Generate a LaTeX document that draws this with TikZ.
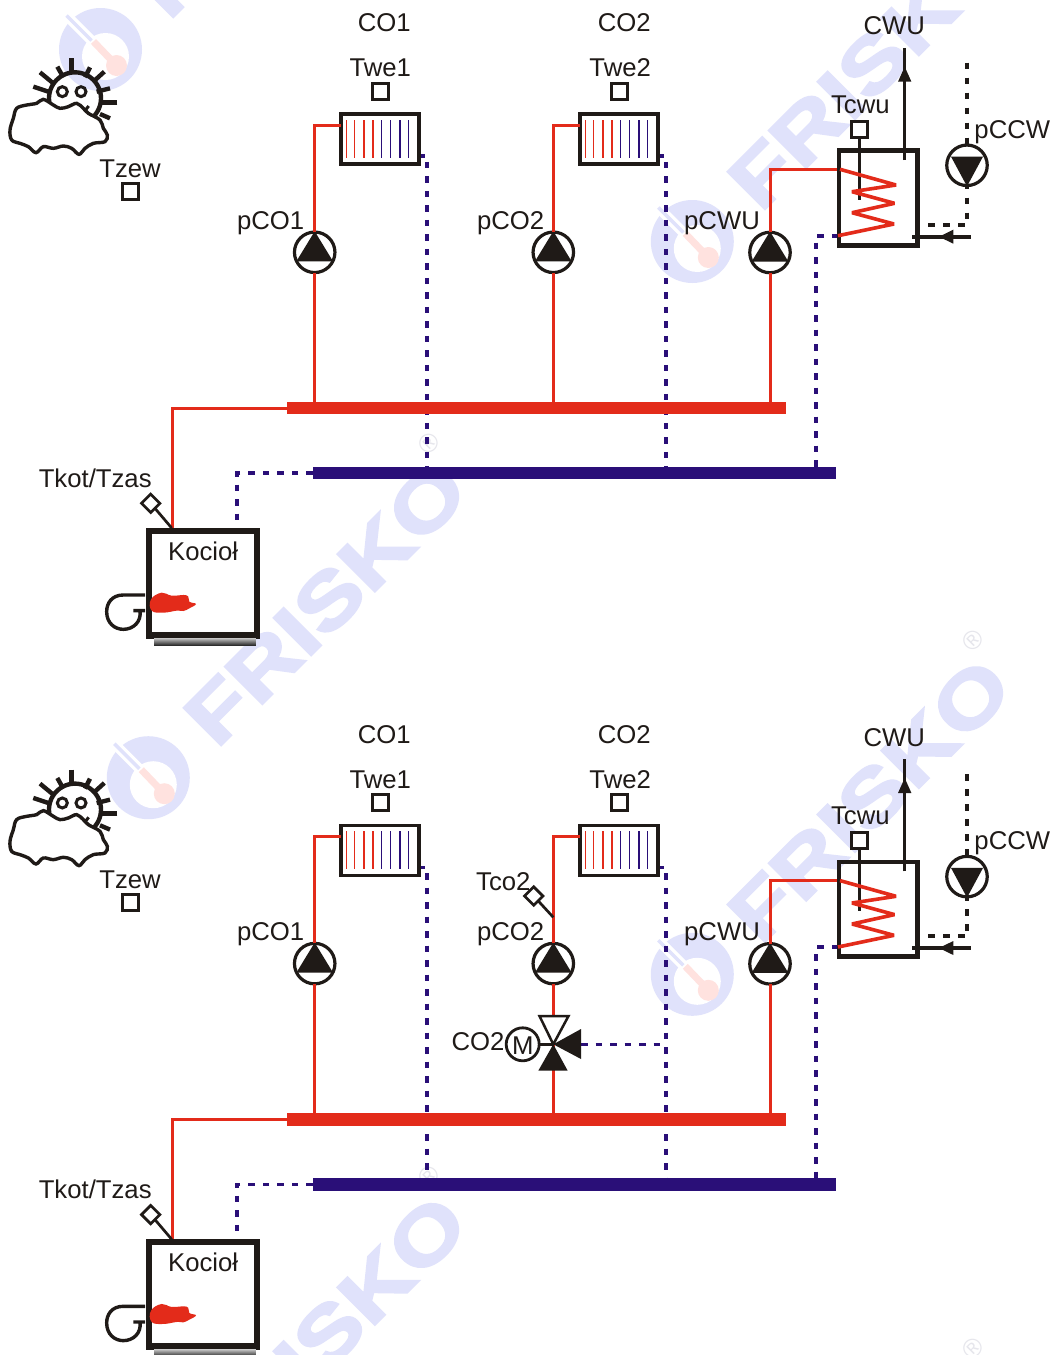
\documentclass[tikz,border=0pt]{standalone}
\usepackage{fontspec}
\setmainfont{Liberation Sans}
\newfontfamily\wmfont[BoldFeatures={FakeBold=2.6}]{Liberation Sans}
\definecolor{ink}{HTML}{1F1A17}
\definecolor{hot}{HTML}{E32B1A}
\definecolor{cold}{HTML}{2A0F78}
\definecolor{wmlav}{HTML}{E0E2FB}
\definecolor{wmpink}{HTML}{FFE2DF}
\definecolor{wmgrey}{HTML}{E6E6EC}
\tikzset{
  lbl/.style={font=\fontsize{25.7}{27}\selectfont,inner sep=0pt,outer sep=0pt,text=ink,anchor=base},
  hotpipe/.style={draw=hot,line width=3pt},
  colddash/.style={draw=cold,line width=3.6pt,dash pattern=on 6.5pt off 8pt},
  blackdash/.style={draw=ink,line width=3.8pt,dash pattern=on 6.5pt off 8.5pt},
  bus/.style={inner sep=0pt,outer sep=0pt,minimum height=12.6pt},
  sqsensor/.style={draw=ink,line width=3pt,fill=white,minimum size=16pt,inner sep=0pt,outer sep=0pt},
  dsensor/.style={draw=ink,line width=2.7pt,fill=white,rotate=45,minimum size=13pt,inner sep=0pt,outer sep=0pt},
  pumpc/.style={circle,draw=ink,line width=3.2pt,fill=white,minimum size=40.5pt,inner sep=0pt,outer sep=0pt},
  radbox/.style={draw=ink,line width=3.6pt,fill=white,minimum width=78pt,minimum height=50pt,inner sep=0pt,outer sep=0pt},
  wire/.style={draw=ink,line width=2.7pt},
}
% up-pointing pump: name, x, y
\newcommand\pumpup[3]{%
  \node[pumpc] (#1) at (#2,#3) {};
  \fill[ink] (#2,#3-21) -- (#2+18.3,#3+9) -- (#2-18.3,#3+9) -- cycle;}
% radiator: name, centre x
\newcommand\radiator[2]{%
  \node[radbox] (#1) at (#2,139.2) {};
  \foreach \d in {-33.7,-25.3,-16,-7}{\draw[hot,line width=1.5pt] (#2+\d,120) -- (#2+\d,157.7);}
  \foreach \d in {1.7,10.7,20,28.3}{\draw[cold,line width=1.5pt] (#2+\d,120) -- (#2+\d,157.7);}}
% watermark: logo centre
\newcommand\wlogo[3]{%
  \begin{scope}[shift={(#1,#2)}]
    \fill[wmlav] (0,0) circle (41.5);
    \fill[white] (5,7) circle (23.5);
    \draw[white,line width=10pt] (-34,-34) -- (6,6);
    \draw[wmlav,line width=3.5pt] (-34,-34) -- (-9,-9);
    \draw[wmpink,line width=7pt] (-7,-8) -- (16,16);
    \fill[wmpink] (16,16) circle (10.5);
    \node[rotate=45,anchor=base west,inner sep=0pt,outer sep=0pt,text=wmlav] (#3) at (68.4,-28)
      {\scalebox{1.24}[1]{\fontsize{77}{77}\wmfont\bfseries FRISKO}};
  \end{scope}}
\newcommand\wreg[3]{\node[rotate=45,inner sep=0pt,text=wmgrey,font=\fontsize{26}{26}\selectfont] (#3) at (#1,#2) {®};}

\newcommand\scheme[3]{%
\begin{scope}[yshift=#1pt,name prefix=#2-]
  % weather symbol
  \begin{scope}[shift={(0,40)},scale=0.33333]
    \draw[ink,line width=4.4pt,line cap=round] plot[domain=-42:190,samples=40] ({225+78*cos(\x)},{175-78*sin(\x)});
    \foreach \a/\b/\c/\e in {120/97/160/130,172/80/190/112,215/55/215/100,270/82/255/112,313/95/280/125,330/145/290/155,352/187/305/187,330/235/300/222,100/140/145/155}
      {\draw[ink,line width=4.4pt] (\a,\b) -- (\c,\e);}
    \draw[ink,line width=3pt] (187,155) circle (15) (243,155) circle (15);
    \draw[ink,line width=3.4pt,fill=white] plot[smooth cycle,tension=0.6] coordinates {(30,270) (40,235) (50,205) (80,195) (110,190) (130,178) (160,195) (180,205) (205,200) (230,190) (250,205) (265,220) (300,240) (310,265) (322,285) (315,305) (280,310) (255,325) (237,343) (215,325) (190,318) (160,325) (130,320) (108,338) (85,320) (60,310) (35,300)};
    \draw[ink,line width=3pt] (255,212) -- (266,198);
  \end{scope}
  \node[lbl] (tzewl) at (130,177.3) {Tzew};
  \node[sqsensor] (tzew) at (130.5,191) {};

  \node[lbl] (co1l) at (384.3,31.8) {CO1};
  \node[lbl] (co2l) at (624.2,31.8) {CO2};
  \node[lbl] (twe1l) at (380.3,76.8) {Twe1};
  \node[lbl] (twe2l) at (620.2,76.8) {Twe2};
  \node[sqsensor] (twe1) at (380,91.3) {};
  \node[sqsensor] (twe2) at (619,91.3) {};
  \node[lbl] (pco1l) at (270.7,229.3) {pCO1};
  \node[lbl] (pco2l) at (510.7,229.3) {pCO2};
  \node[lbl] (pcwul) at (722,229.3) {pCWU};
  \node[lbl] (cwul) at (894.3,34.8) {CWU};
  \node[lbl] (tcwul) at (860.3,113.5) {Tcwu};
  \node[lbl] (pccwl) at (1012.3,138) {pCCW};
  \node[lbl] (tkotl) at (95.2,487.3) {Tkot/Tzas};

  % named attachment points
  \coordinate (r1in) at (341,125);
  \coordinate (r2in) at (580,125);
  \coordinate (r1out) at (418,156);
  \coordinate (r1dn) at (426.7,156);
  \coordinate (r2out) at (657,156);
  \coordinate (r2dn) at (665.7,156);
  \coordinate (boilin) at (172.3,529);
  \coordinate (boilout) at (237,530);
  \coordinate (coilin) at (840,169.3);
  \coordinate (coilout) at (838,235.7);
  \coordinate (tankret) at (816,235.7);
  \coordinate (ccwtop) at (967.3,62.7);
  \coordinate (ccwbend) at (967.3,225);
  \coordinate (ccwend) at (916.7,225);
  \coordinate (cwutop) at (904.7,48);
  \coordinate (cwubot) at (904.7,160);
  \coordinate (cwin) at (970.7,236.7);
  \coordinate (cwend) at (911.7,236.7);
  \coordinate (tcwuend) at (859.7,200);
  \coordinate (kotend) at (171.7,528);

  % pipes, return lines first so that the buses lie over them
  \node[bus,minimum width=499pt] (redbus) at (536.5,408) {};
  \node[bus,minimum width=523pt] (bluebus) at (574,473) {};
  \draw[colddash] (r1out) -- (r1dn) -- (r1dn |- bluebus.north);
  \draw[colddash] (r2out) -- (r2dn) -- (r2dn |- bluebus.north);
  \draw[colddash] (coilout) -- (tankret) -- (tankret |- bluebus.north);
  \draw[colddash] (bluebus.west) -| (boilout);
  \fill[hot] (redbus.south west) rectangle (redbus.north east);
  \fill[cold] (bluebus.south west) rectangle (bluebus.north east);

  \radiator{rad1}{380}
  \radiator{rad2}{619}
  \pumpup{pco1}{314.7}{252.3}
  \pumpup{pco2}{553.3}{252.3}
  \pumpup{pcwu}{770}{252.5}
  \draw[hotpipe] (pco1.north) |- (r1in);
  \draw[hotpipe] (pco2.north) |- (r2in);
  \draw[hotpipe] (pco1.south) -- (pco1.south |- redbus.north);
  \draw[hotpipe] (pcwu.south) -- (pcwu.south |- redbus.north);
  \draw[hotpipe] (pcwu.north) |- (coilin);
  \draw[hotpipe] (redbus.west) -| (boilin);
  #3
  % storage tank
  \node[draw=ink,line width=4.6pt,minimum width=78.3pt,minimum height=94.6pt,inner sep=0pt,outer sep=0pt] (tank) at (878.2,198) {};
  \draw[wire,line width=3pt] (cwubot) -- (cwutop);
  \fill[ink] (904.7,66.7) -- (911.4,81.7) -- (898,81.7) -- cycle;
  \node[sqsensor] (tcwu) at (859.7,129) {};
  \draw[wire,line width=3pt] (tcwu) -- (tcwuend);
  \draw[hot,line width=3.6pt,line join=bevel] (coilin) -- (896,185) -- (852,191.7) -- (894.5,203.3) -- (852,212.7) -- (894,224) -- (coilout);
  % circulation pump
  \draw[blackdash] (ccwtop) -- (ccwbend) -- (ccwend);
  \node[pumpc] (pccw) at (967,165.3) {};
  \fill[ink] (967,186.3) -- (951,156.6) -- (983,156.6) -- cycle;
  % cold water inlet
  \draw[ink,line width=4.4pt] (cwin) -- (cwend);
  \fill[ink] (939,236.7) -- (953.3,229.7) -- (953.3,243.7) -- cycle;
  % boiler
  \node[draw=ink,line width=6.4pt,minimum width=108.3pt,minimum height=104.6pt,inner sep=0pt,outer sep=0pt] (kociol) at (202.9,583) {};
  \node[lbl] (kociol-l) at (203.2,560) {Kocioł};
  \node[inner sep=0pt,outer sep=0pt,minimum width=101.7pt,minimum height=7pt,top color=black!25,bottom color=black!85] (ash) at (204.9,641.8) {};
  \begin{scope}[shift={(80,460)},scale=0.33333]
    \draw[ink,line width=3.4pt] (195,405) -- (130,405) .. controls (95,405) and (80,430) .. (80,455) .. controls (80,490) and (105,508) .. (130,508) .. controls (160,508) and (185,485) .. (180,452) (160,452) -- (195,452);
    \fill[hot] plot[smooth cycle,tension=0.7] coordinates {(213,418) (245,398) (275,407) (320,406) (328,425) (348,432) (328,445) (310,453) (290,452) (250,458) (215,452)};
  \end{scope}
  \node[dsensor] (tkot) at (150.7,503.3) {};
  \draw[wire] (tkot) -- (kotend);
\end{scope}}

\begin{document}
\begin{tikzpicture}[x=1pt,y=-1pt]
  \useasboundingbox (0,0) rectangle (1053,1355);
  \clip (0,0) rectangle (1053,1355);
  \fill[white] (0,0) rectangle (1053,1355);
  \wlogo{100.5}{49.5}{wma}
  \wlogo{692.3}{241.5}{wmb}
  \wlogo{148.3}{777.7}{wmc}
  \wlogo{692.3}{974.3}{wmd}
  \wlogo{148.3}{1511}{wme}
  \wreg{429}{443.3}{wra}
  \wreg{972.7}{640}{wrb}
  \wreg{429}{1176.7}{wrc}
  \wreg{972.7}{1348}{wrd}

  \scheme{0}{a}{%
    \draw[hotpipe] (pco2.south) -- (pco2.south |- redbus.north);}
  \scheme{-711.3}{b}{%
    \coordinate (vc) at (553.3,1044.3-711.3);
    \node[lbl] (tco2l) at (503.3,890-711.3) {Tco2};
    \node[dsensor] (tco2) at (533.7,896-711.3) {};
    \coordinate (tco2end) at (553.3,917.3-711.3);
    \draw[wire] (tco2) -- (tco2end);
    \node[lbl] (co2m) at (478,1050.7-711.3) {CO2};
    \draw[hotpipe] (pco2.south) -- (vc);
    \draw[hotpipe] (vc) -- (vc |- redbus.north);
    \coordinate (vport) at (581,1044.3-711.3);
    \draw[colddash] (vport) -- (vport -| r2dn);
    \node[circle,draw=ink,line width=2.8pt,fill=white,minimum size=33pt,inner sep=0pt,outer sep=0pt] (motor) at (522.7,1044.3-711.3) {};
    \node[lbl] (motorl) at (522.7,1054.3-711.3) {M};
    \draw[ink,line width=3.4pt] (motor.east) -- (vc);
    \draw[ink,line width=2.5pt,fill=white,line join=miter] (vc) -- (568.5,1016-711.3) -- (539.5,1016-711.3) -- cycle;
    \fill[ink] (vc) -- (567.7,1070.7-711.3) -- (538.3,1070.7-711.3) -- cycle;
    \fill[ink] (vc) -- (581,1029-711.3) -- (581,1059-711.3) -- cycle;}
\end{tikzpicture}
\end{document}
